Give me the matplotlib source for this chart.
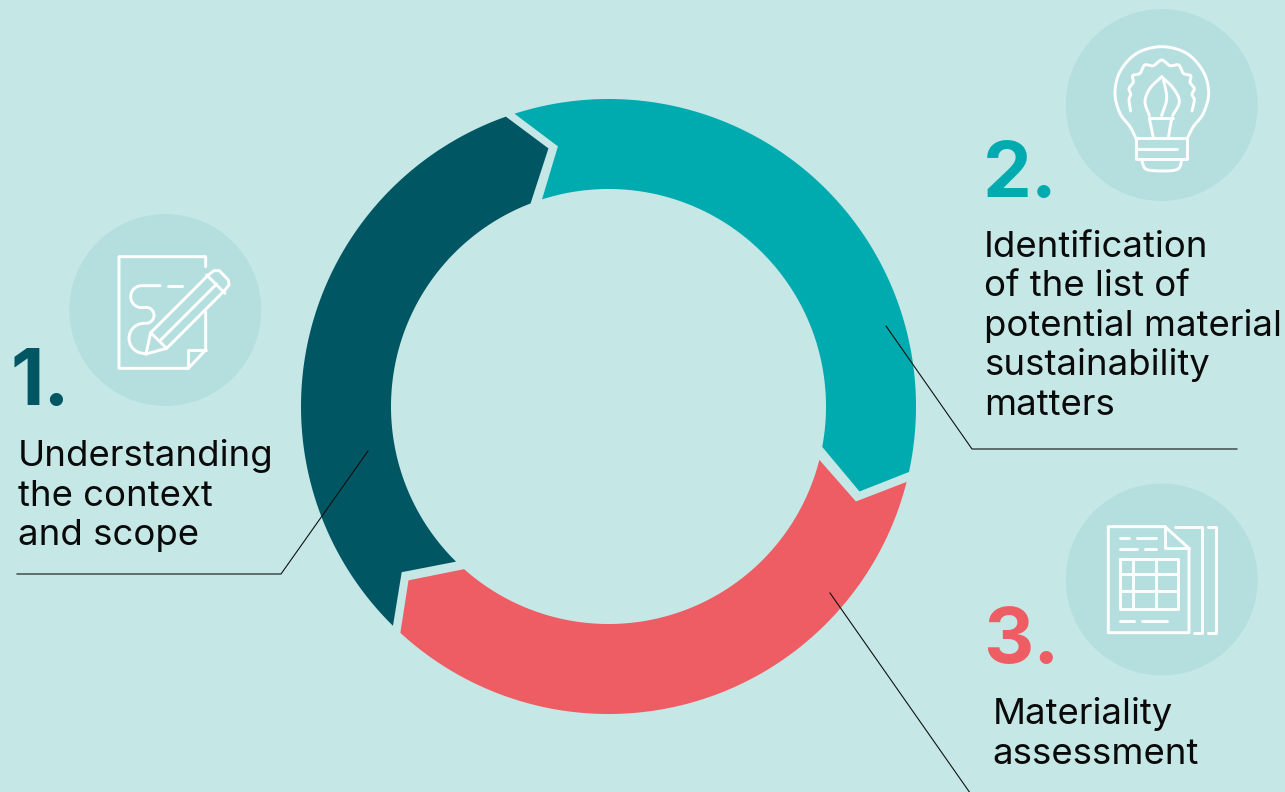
import numpy as np
import matplotlib
matplotlib.use("Agg")
import matplotlib.pyplot as plt
from matplotlib.patches import Polygon, Circle

# Step names, colours and ring extents (degrees clockwise from 12 o'clock)
step_numbers = ["1.", "2.", "3."]
step_colors = ["#005663", "#00ABAF", "#EE5D63"]
step_start_deg = [224.5, 342.2, 104.2]
step_sweep_deg = [116.0, 120.1, 118.4]
step_inner_skew = [1.5, 1.6, 1.0]
step_lines = [
    ["Understanding", "the context", "and scope"],
    ["Identification", "of the list of", "potential material", "sustainability", "matters"],
    ["Materiality", "assessment"],
]

BG = "#C5E8E7"
DISC = "#B5DFDE"
W, H = 1285, 792
CX, CY, R_OUT, R_IN = 608.5, 406.5, 307.5, 217.5
R_MID = 265.0
TIP_DEG = 6.4
NOTCH_DEG = 6.8
BODY_FONT = ["Inter", "DejaVu Sans"]
NUM_FONT = ["Inter", "DejaVu Sans"]

fig = plt.figure(figsize=(W / 100, H / 100), dpi=100, facecolor=BG)
ax = fig.add_axes([0, 0, 1, 1])
ax.set_xlim(0, W)
ax.set_ylim(H, 0)
ax.axis("off")


def polar(r, deg):
    a = np.radians(deg)
    return CX + r * np.sin(a), CY - r * np.cos(a)


def ring_segment(start, sweep, skew):
    end = start + sweep
    outer = [polar(R_OUT, d) for d in np.linspace(start, end, 200)]
    inner = [polar(R_IN, d) for d in np.linspace(end - skew, start, 200)]
    tip = polar(R_MID, end + TIP_DEG)
    notch = polar(R_MID, start + NOTCH_DEG)
    return outer + [tip] + inner + [notch]


for s, w, k, c in zip(step_start_deg, step_sweep_deg, step_inner_skew, step_colors):
    ax.add_patch(Polygon(ring_segment(s, w, k), closed=True, fc=c, ec="none", zorder=2))

# Thin leader lines linking the labels to the ring
leaders = [
    [(17, 574), (281, 574), (368, 451)],
    [(886, 326), (972, 449), (1237, 449)],
    [(830, 593), (975, 800)],
]
for pts in leaders:
    xs, ys = zip(*pts)
    ax.plot(xs, ys, color="#111111", lw=0.8, zorder=3, solid_joinstyle="miter")


def smooth(points, n=14):
    """Catmull-Rom curve through the given points."""
    p = np.array(points, float)
    p = np.vstack([2 * p[0] - p[1], p, 2 * p[-1] - p[-2]])
    out = []
    for i in range(1, len(p) - 2):
        for t in np.linspace(0, 1, n, endpoint=False):
            out.append(0.5 * ((2 * p[i]) + (p[i + 1] - p[i - 1]) * t
                              + (2 * p[i - 1] - 5 * p[i] + 4 * p[i + 1] - p[i + 2]) * t ** 2
                              + (3 * p[i] - p[i - 1] - 3 * p[i + 1] + p[i + 2]) * t ** 3))
    out.append(p[-2])
    return np.array(out)


def arc(cx, cy, r, a0, a1, n=24):
    t = np.radians(np.linspace(a0, a1, n))
    return [(cx + r * np.cos(v), cy + r * np.sin(v)) for v in t]


def draw_icon(origin, polylines, curves):
    ox, oy = origin
    for pts in polylines:
        a = np.array(pts, float) / 3
        ax.plot(a[:, 0] + ox, a[:, 1] + oy, color="white", lw=2.1, zorder=3,
                solid_capstyle="round", solid_joinstyle="round")
    for pts in curves:
        a = smooth(pts) / 3
        ax.plot(a[:, 0] + ox, a[:, 1] + oy, color="white", lw=2.1, zorder=3,
                solid_capstyle="round", solid_joinstyle="round")


for centre in [(165.3, 310), (1161.7, 105), (1161.7, 579.5)]:
    ax.add_patch(Circle(centre, 96, fc=DISC, ec="none", zorder=1))

# Pencil and note, with a looping stroke drawn from straight runs and arcs
squiggle = ([(300, 227)] + arc(245, 260, 33, 270, 90) + arc(258, 316, 24, -90, 90)
            + arc(252, 385, 45, -90, -270)[:-1] + [(258, 432)])
draw_icon((60, 210), [
    [(437, 170), (437, 140), (177, 140), (177, 475), (385, 475), (437, 420), (437, 305)],
    [(385, 475), (385, 420), (437, 420)],
    [(325, 227), (365, 227)],
    [(258, 432), (272, 368), (445, 195), (462, 182), (478, 182), (505, 210), (507, 225),
     (495, 240), (320, 415), (258, 432)],
    [(272, 368), (320, 415)],
    [(300, 392), (470, 222)],
    [(440, 195), (495, 250)],
    squiggle,
], [])

# Light bulb with brush
draw_icon((1060, 5), [
    [(228, 400), (382, 400), (382, 462), (228, 462), (228, 400)],
    [(228, 432), (352, 432)],
    [(268, 340), (338, 340)],
    [(268, 340), (280, 398)],
    [(335, 340), (325, 398)],
], [
    [(228, 400), (210, 365), (180, 325), (165, 265), (180, 200), (230, 145), (305, 125),
     (380, 145), (430, 200), (446, 265), (430, 325), (400, 365), (382, 400)],
    [(245, 465), (255, 490), (280, 497), (335, 497), (358, 488), (365, 465)],
    [(212, 318), (207, 285), (212, 268), (207, 250), (220, 232), (218, 212), (240, 205),
     (254, 180), (280, 182), (305, 165), (330, 182), (356, 180), (370, 205), (392, 212),
     (390, 232), (403, 250), (396, 268), (403, 285), (396, 318)],
    [(305, 215), (270, 250), (255, 290), (268, 332)],
    [(305, 215), (340, 250), (358, 290), (338, 332)],
    [(310, 222), (320, 280), (305, 332)],
])

# Document with table
draw_icon((1060, 480), [
    [(315, 140), (145, 140), (145, 458), (387, 458), (387, 205), (315, 140)],
    [(315, 140), (315, 205), (387, 205)],
    [(345, 140), (425, 140), (425, 458), (403, 458)],
    [(445, 140), (467, 140), (467, 458), (445, 458)],
    [(180, 173), (208, 173)], [(230, 173), (287, 173)],
    [(180, 207), (232, 207)], [(255, 207), (287, 207)],
    [(180, 424), (222, 424)], [(245, 424), (320, 424)],
    [(180, 238), (355, 238), (355, 388), (180, 388), (180, 238)],
    [(180, 282), (355, 282)], [(180, 333), (355, 333)],
    [(220, 238), (220, 388)], [(287, 238), (287, 388)],
], [])

# Numbers and captions
num_pos = [(10, 405), (983, 197), (983, 663)]
cap_pos = [(17.5, 466, 39.5), (984, 257, 39.5), (992.5, 724, 40)]
for label, color, (nx, ny) in zip(step_numbers, step_colors, num_pos):
    ax.text(nx, ny, label, color=color, fontsize=56, fontweight="bold",
            family=NUM_FONT, ha="left", va="baseline", zorder=4)
for lines, (tx, ty, dy) in zip(step_lines, cap_pos):
    for i, line in enumerate(lines):
        ax.text(tx, ty + i * dy, line, color="#0a0a0a", fontsize=26.3,
                family=BODY_FONT, ha="left", va="baseline", zorder=4)

fig.savefig("out.png", dpi=100, facecolor=BG)
